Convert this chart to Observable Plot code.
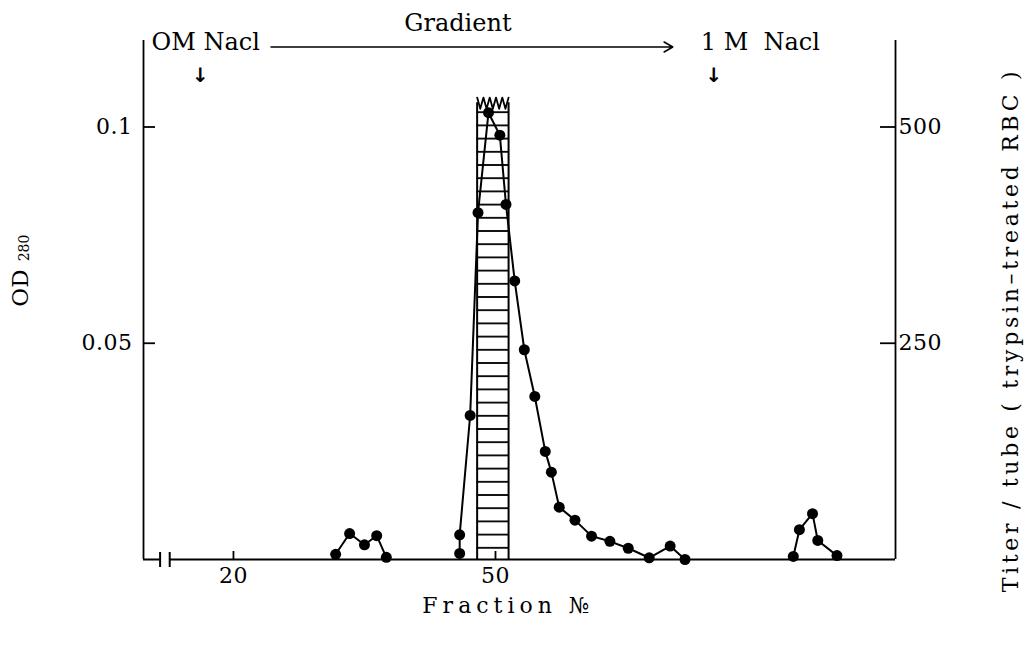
<!DOCTYPE html>
<html><head><meta charset="utf-8">
<script src="https://cdn.jsdelivr.net/npm/d3@7"></script>
<script src="https://cdn.jsdelivr.net/npm/@observablehq/plot@0.6"></script>
<style>
html,body{margin:0;padding:0;background:#fff;}
#chart{width:1024px;height:646px;overflow:hidden;}
</style></head>
<body>
<svg width="0" height="0" style="position:absolute">
  <defs>
    <pattern id="hatch" patternUnits="userSpaceOnUse" width="8" height="13.2">
      <rect width="8" height="13.2" fill="#fff"/>
      <line x1="0" x2="8" y1="6.6" y2="6.6" stroke="#000" stroke-width="1.8"/>
    </pattern>
  </defs>
</svg>
<div id="chart"></div>
<script>
// ---- data ----
const fractions = [31.7, 33.3, 35.0, 36.4, 37.5,
  45.9, 45.9, 47.1, 48.0, 49.2, 50.5, 51.2, 52.2, 53.3, 54.5, 55.7, 56.4, 57.3, 59.1, 61.0, 63.1, 65.2, 67.6, 70.0, 71.7,
  84.1, 84.8, 86.3, 86.9, 89.1];
const od280 = [0.0012, 0.0060, 0.0034, 0.0055, 0.0005,
  0.0014, 0.0057, 0.0333, 0.0802, 0.1033, 0.0981, 0.0821, 0.0644, 0.0485, 0.0377, 0.0250, 0.0202, 0.0121, 0.0091, 0.0054, 0.0042, 0.0026, 0.0004, 0.0031, 0.0000,
  0.0007, 0.0069, 0.0106, 0.0044, 0.0009];
const peakGroup = [1, 1, 1, 1, 1,
  2, 2, 2, 2, 2, 2, 2, 2, 2, 2, 2, 2, 2, 2, 2, 2, 2, 2, 2, 2,
  3, 3, 3, 3, 3];

// hemagglutinating activity (titer) bar
const titerFractionStart = 47.9;
const titerFractionEnd = 51.5;
const titerValue = 528;          // off-scale (zig-zag top)
const titerPerOD = 5000;         // right axis 500 <-> left axis 0.1

const xTicks = [20, 50];
const xTickLabels = ["20", "50"];
const odTicks = [0.05, 0.1];
const odTickLabels = ["0.05", "0.1"];
const titerTicks = [250, 500];
const titerTickLabels = ["250", "500"];
const xDomain = [9.7, 95.8];
const odDomain = [0, 0.12];
const axisBreak = [11.6, 12.7];

const annotationLabels = ["OM Nacl", "Gradient", "1 M\u00a0 Nacl"];
const annotationFractions = [9.7, 45.7, 73.5];
const gradientFrom = 24.3, gradientTo = 70.3, gradientOD = 0.1185;
const markerFractions = [16.2, 75.0];

// ---- build tables ----
const points = fractions.map((f, i) => ({fraction: f, od: od280[i], group: peakGroup[i]}));
const bar = [{x1: titerFractionStart, x2: titerFractionEnd, top: titerValue / titerPerOD}];
const zig = d3.range(11).map(i => ({
  x: titerFractionStart + (titerFractionEnd - titerFractionStart) * i / 10,
  y: (titerValue + (i % 2 ? -7 : 6)) / titerPerOD
}));
const FONT = "DejaVu Serif";

const chart = Plot.plot({
  width: 1024, height: 646,
  marginTop: 40, marginRight: 129, marginBottom: 87, marginLeft: 143,
  x: {domain: xDomain, axis: null},
  y: {domain: odDomain, axis: null},
  style: {fontFamily: FONT, background: "#fff", color: "#000"},
  marks: [
    // titer bar (hatched)
    Plot.rect(bar, {x1: "x1", x2: "x2", y1: 0, y2: "top", fill: "url(#hatch)"}),
    Plot.ruleX([titerFractionStart, titerFractionEnd], {y1: 0, y2: bar[0].top, stroke: "#000", strokeWidth: 2}),
    Plot.line(zig, {x: "x", y: "y", stroke: "#000", strokeWidth: 1.8}),
    // frame: axes lines
    Plot.ruleX([xDomain[0]], {y1: odDomain[0], y2: odDomain[1], stroke: "#000", strokeWidth: 1.8}),
    Plot.ruleX([xDomain[1]], {y1: odDomain[0], y2: odDomain[1], stroke: "#000", strokeWidth: 1.8}),
    Plot.ruleY([0], {x1: xDomain[0], x2: xDomain[1], stroke: "#000", strokeWidth: 1.8}),
    // axis break
    Plot.ruleY([0], {x1: axisBreak[0], x2: axisBreak[1], stroke: "#fff", strokeWidth: 5}),
    Plot.ruleX(axisBreak, {y1: 0, y2: 0, insetTop: -7, insetBottom: -8, stroke: "#000", strokeWidth: 2}),
    // ticks
    Plot.ruleX(xTicks, {y1: 0, y2: 0, insetTop: -8, stroke: "#000", strokeWidth: 1.8}),
    Plot.ruleY(odTicks, {x1: xDomain[0], x2: xDomain[0], insetRight: -12, stroke: "#000", strokeWidth: 1.8}),
    Plot.ruleY(titerTicks.map(t => t / titerPerOD), {x1: xDomain[1], x2: xDomain[1], insetLeft: -15, stroke: "#000", strokeWidth: 1.8}),
    // tick labels
    Plot.text(xTicks, {x: d => d, y: 0, text: (d, i) => xTickLabels[i], dy: 16, fontSize: 22, fill: "#000"}),
    Plot.text(odTicks, {x: xDomain[0], y: d => d, text: (d, i) => odTickLabels[i], textAnchor: "end", dx: -11, fontSize: 22, fill: "#000"}),
    Plot.text(titerTicks, {x: xDomain[1], y: d => d / titerPerOD, text: (d, i) => titerTickLabels[i], textAnchor: "start", dx: 3, fontSize: 22, fill: "#000"}),
    // data
    Plot.line(points, {x: "fraction", y: "od", z: "group", stroke: "#000", strokeWidth: 2}),
    Plot.dot(points, {x: "fraction", y: "od", r: 5.5, fill: "#000", stroke: "none"}),
    // gradient annotation
    Plot.arrow([{x1: gradientFrom, x2: gradientTo}], {x1: "x1", x2: "x2", y1: gradientOD, y2: gradientOD, stroke: "#000", strokeWidth: 1.5, headLength: 10}),
    Plot.text([0], {x: annotationFractions[0], text: () => annotationLabels[0], frameAnchor: "top", lineAnchor: "middle", textAnchor: "start", dx: 8, dy: 2, fontSize: 24, fill: "#000"}),
    Plot.text([0], {x: annotationFractions[1], text: () => annotationLabels[1], frameAnchor: "top", lineAnchor: "middle", textAnchor: "middle", dy: -17, fontSize: 24, fill: "#000"}),
    Plot.text([0], {x: annotationFractions[2], text: () => annotationLabels[2], frameAnchor: "top", lineAnchor: "middle", textAnchor: "start", dy: 2, fontSize: 24, fill: "#000"}),
    Plot.text(markerFractions, {x: d => d, text: () => "\u2193", frameAnchor: "top", lineAnchor: "middle", dy: 35, fontSize: 20, fontWeight: "bold", fontFamily: "DejaVu Sans", fill: "#000"}),
    // axis titles
    Plot.text([0], {text: () => "Fraction \u2116", frameAnchor: "bottom", textAnchor: "middle", dx: -11, dy: 53, fontSize: 22, fill: "#000"}),
    Plot.text([0], {text: () => "OD", frameAnchor: "left", textAnchor: "middle", dx: -123, dy: -12, rotate: -90, fontSize: 23, fill: "#000"}),
    Plot.text([0], {text: () => "280", frameAnchor: "left", textAnchor: "middle", dx: -119, dy: -52, rotate: -90, fontSize: 14, fill: "#000"}),
    Plot.text([0], {text: () => "Titer / tube ( trypsin\u2013treated RBC )", frameAnchor: "right", textAnchor: "middle", dx: 115, dy: 30, rotate: -90, fontSize: 22, fill: "#000"})
  ]
});
document.getElementById("chart").appendChild(chart);
d3.select(chart).selectAll("text").each(function() {
  const t = this.textContent;
  if (t === "Fraction \u2116") this.setAttribute("letter-spacing", "5");
  if (t.startsWith("Titer")) this.setAttribute("letter-spacing", "3.7");
  if (t === "0.05" || t === "0.1" || t === "20" || t === "50" || t === "250" || t === "500") this.setAttribute("letter-spacing", "0.5");
});
</script>
</body></html>
